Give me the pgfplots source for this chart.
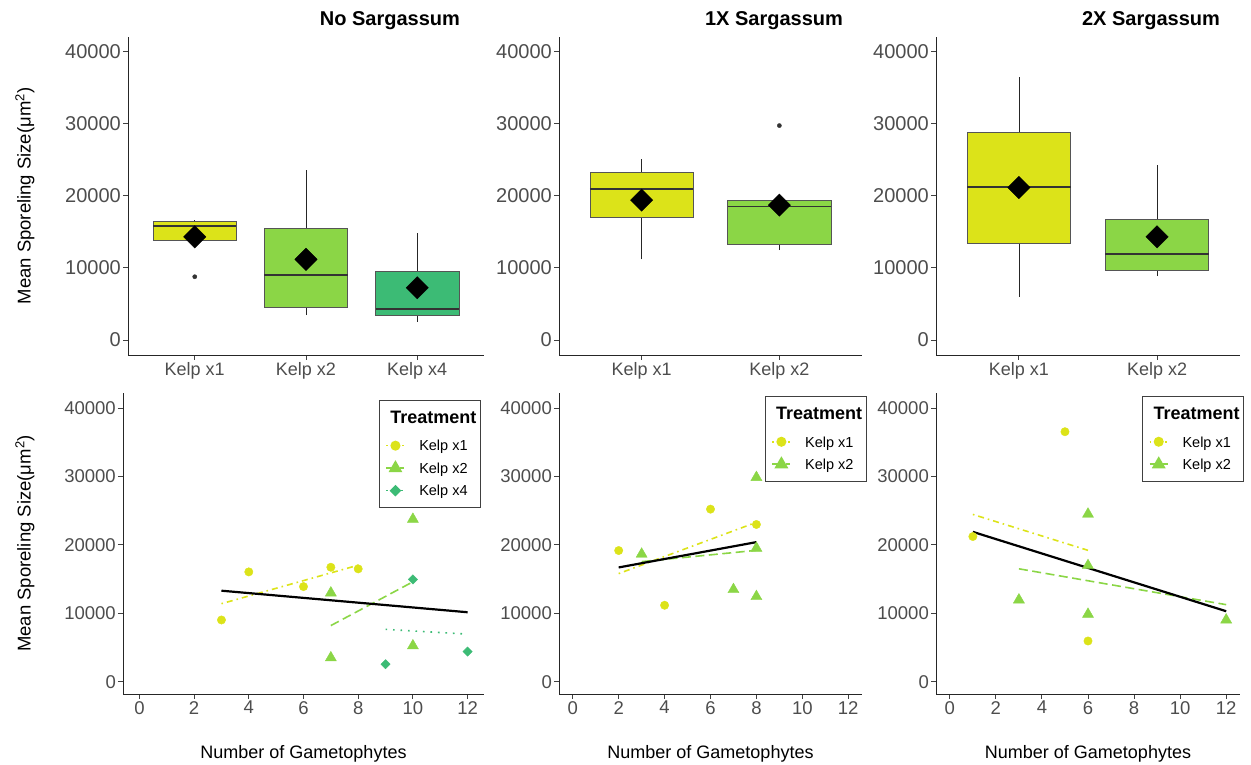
\documentclass[border=0pt]{standalone}
\usepackage{fontspec}
\setmainfont{Liberation Sans}
\usepackage{pgfplots}
\pgfplotsset{compat=1.18}
\definecolor{ka}{HTML}{DCE319}
\definecolor{kb}{HTML}{8BD646}
\definecolor{kc}{HTML}{3CBB75}
\definecolor{tickgray}{HTML}{4D4D4D}
\definecolor{boxgray}{HTML}{555555}
\pgfplotsset{
  ggbase/.style={
    scale only axis, anchor=south west,
    axis x line*=bottom, axis y line*=left,
    axis line style={-, draw=black!85, line width=0.9pt},
    tick align=outside, major tick length=5pt,
    major tick style={draw=black!75, line width=0.9pt},
    tick label style={text=tickgray},
    /pgf/number format/1000 sep={},
    /pgf/number format/assume math mode=true,
    scaled y ticks=false, scaled x ticks=false,
    ytick={0,10000,20000,30000,40000},
    minor tick num=0,
  },
  topax/.style={ggbase, height=318pt, ymin=-2070, ymax=41980,
    yticklabel style={font=\fontsize{20}{22}\selectfont, inner sep=2pt},
    xticklabel style={font=\fontsize{18}{20}\selectfont, inner sep=2pt},
  },
  botax/.style={ggbase, height=301pt, ymin=-1800, ymax=42200, xmin=-0.6, xmax=12.6,
    xtick={0,2,4,6,8,10,12},
    tick label style={font=\fontsize{18.5}{20}\selectfont, inner sep=2pt},
    legend cell align=left,
    legend image code/.code={\draw[mark repeat=2,mark phase=2,#1] plot coordinates {(0pt,2.5pt) (9pt,2.5pt) (18pt,2.5pt)};},
  },
  legsty/.style={legend style={draw=black!75, line width=1pt, fill=white, inner xsep=6pt, inner ysep=3pt,
    font=\fontsize{14.5}{16}\selectfont, row sep=0pt, column sep=12pt,
    nodes={inner sep=2pt, text height=12pt, text depth=6.5pt}}},
  meanmk/.style={only marks, mark=square*, mark options={rotate=45, fill=black, draw=black}, mark size=7.9pt},
  outmk/.style={only marks, mark=*, mark size=2.1pt, color=black!80},
  whisk/.style={black!85, line width=0.7pt},
  medl/.style={black!80, line width=1.8pt},
  lka/.style={ka, line width=1.6pt, dash pattern=on 1.6pt off 4pt on 6pt off 4pt},
  lkb/.style={kb, line width=1.6pt, dash pattern=on 9pt off 4.5pt},
  lkc/.style={kc, line width=1.6pt, dash pattern=on 1.6pt off 5.9pt},
  pka/.style={only marks, mark=*, mark size=4.2pt, color=ka},
  pkb/.style={only marks, mark=triangle*, mark size=6.4pt, color=kb},
  pkc/.style={only marks, mark=square*, mark options={rotate=45}, mark size=3.3pt, color=kc},
  lall/.style={black, line width=2.2pt},
}
% box: left, centre, right, lower whisker, lower quartile, median, upper quartile, upper whisker, fill
\newcommand{\gbox}[9]{%
  \addplot[whisk] coordinates {(#2,#4) (#2,#5)};
  \addplot[whisk] coordinates {(#2,#7) (#2,#8)};
  \addplot[fill=#9, draw=boxgray, line width=0.9pt] coordinates {(#1,#5) (#3,#5) (#3,#7) (#1,#7)} -- cycle;
  \addplot[medl] coordinates {(#1,#6) (#3,#6)};
}
\newcommand{\ttlentry}{\addlegendimage{empty legend}\addlegendentry[text height=18pt, text depth=11.5pt]{\hspace*{-29pt}\makebox[82pt][l]{\fontsize{18}{20}\selectfont\bfseries Treatment}}}
\begin{document}
\begin{tikzpicture}
\path[use as bounding box] (0,0) rectangle (1251pt,765pt);

% ---------- top row ----------
\begin{axis}[topax, at={(128pt,410pt)}, width=356pt, xmin=0.4, xmax=3.6,
  xtick={1,2,3}, xticklabels={Kelp x1,Kelp x2,Kelp x4}]
\gbox{0.625}{1}{1.375}{13840}{13840}{15830}{16380}{16610}{ka}
\gbox{1.625}{2}{2.375}{3460}{4570}{9000}{15410}{23620}{kb}
\gbox{2.625}{3}{3.375}{2540}{3370}{4340}{9550}{14760}{kc}
\addplot[outmk] coordinates {(1,8770)};
\addplot[meanmk] coordinates {(1,14300) (2,11170) (3,7240)};
\end{axis}

\begin{axis}[topax, at={(559pt,410pt)}, width=303pt, xmin=0.4, xmax=2.6,
  xtick={1,2}, xticklabels={Kelp x1,Kelp x2}]
\gbox{0.625}{1}{1.375}{11170}{16980}{20900}{23210}{25010}{ka}
\gbox{1.625}{2}{2.375}{12460}{13290}{18500}{19290}{19290}{kb}
\addplot[outmk] coordinates {(2,29710)};
\addplot[meanmk] coordinates {(1,19380) (2,18690)};
\end{axis}

\begin{axis}[topax, at={(936pt,410pt)}, width=304pt, xmin=0.4, xmax=2.6,
  xtick={1,2}, xticklabels={Kelp x1,Kelp x2}]
\gbox{0.625}{1}{1.375}{6000}{13430}{21180}{28700}{36450}{ka}
\gbox{1.625}{2}{2.375}{8860}{9690}{11900}{16750}{24220}{kb}
\addplot[meanmk] coordinates {(1,21130) (2,14300)};
\end{axis}

% ---------- bottom row ----------
\begin{axis}[botax, legsty, at={(123pt,71pt)}, width=361pt,
  legend style={at={(0.991,0.977)}, anchor=north east}]
\ttlentry
\addlegendimage{lka, mark=*, mark size=4.2pt, mark options={solid}}\addlegendentry{Kelp x1}
\addlegendimage{lkb, mark=triangle*, mark size=6.4pt, mark options={solid}}\addlegendentry{Kelp x2}
\addlegendimage{lkc, mark=square*, mark size=3.3pt, mark options={solid, rotate=45}}\addlegendentry{Kelp x4}
\addplot[pka, forget plot] coordinates {(3,9020) (4,16050) (6,13900) (7,16730) (8,16490)};
\addplot[pkb, forget plot] coordinates {(7,12980) (7,3500) (10,23750) (10,5250)};
\addplot[pkc, forget plot] coordinates {(9,2550) (10,14950) (12,4400)};
\addplot[lka, forget plot] coordinates {(3,11400) (8,17030)};
\addplot[lkb, forget plot] coordinates {(7,8200) (10,14600)};
\addplot[lkc, forget plot] coordinates {(9,7650) (12,6950)};
\addplot[lall, forget plot] coordinates {(3,13300) (12,10150)};
\end{axis}

\begin{axis}[botax, legsty, at={(559pt,71pt)}, width=303pt,
  legend style={at={(1.0155,0.990)}, anchor=north east}]
\ttlentry
\addlegendimage{lka, mark=*, mark size=4.2pt, mark options={solid}}\addlegendentry{Kelp x1}
\addlegendimage{lkb, mark=triangle*, mark size=6.4pt, mark options={solid}}\addlegendentry{Kelp x2}
\addplot[pka, forget plot] coordinates {(2,19170) (4,11170) (6,25220) (8,22980)};
\addplot[pkb, forget plot] coordinates {(3,18650) (7,13470) (8,29860) (8,19520) (8,12450)};
\addplot[lka, forget plot] coordinates {(2,15800) (8,23300)};
\addplot[lkb, forget plot] coordinates {(3,17550) (8,19200)};
\addplot[lall, forget plot] coordinates {(2,16700) (8,20400)};
\end{axis}

\begin{axis}[botax, legsty, at={(936pt,71pt)}, width=304pt,
  legend style={at={(1.0132,0.990)}, anchor=north east}]
\ttlentry
\addlegendimage{lka, mark=*, mark size=4.2pt, mark options={solid}}\addlegendentry{Kelp x1}
\addlegendimage{lkb, mark=triangle*, mark size=6.4pt, mark options={solid}}\addlegendentry{Kelp x2}
\addplot[pka, forget plot] coordinates {(1,21220) (5,36540) (6,5950)};
\addplot[pkb, forget plot] coordinates {(3,11960) (6,24500) (6,16980) (6,9860) (12,9030)};
\addplot[lka, forget plot] coordinates {(1,24450) (6,19200)};
\addplot[lkb, forget plot] coordinates {(3,16500) (12,11260)};
\addplot[lall, forget plot] coordinates {(1,21900) (12,10300)};
\end{axis}

% ---------- titles and axis labels ----------
\node[anchor=base east, font=\fontsize{20}{22}\selectfont\bfseries] at (463.5pt,739pt) {No Sargassum};
\node[anchor=base east, font=\fontsize{20}{22}\selectfont\bfseries] at (846.5pt,739pt) {1X Sargassum};
\node[anchor=base east, font=\fontsize{20}{22}\selectfont\bfseries] at (1223.5pt,739pt) {2X Sargassum};
\node[rotate=90, anchor=base, font=\fontsize{18.5}{20}\selectfont] at (30.7pt,569pt) {Mean Sporeling Size(μm\textsuperscript{2})};
\node[rotate=90, anchor=base, font=\fontsize{18.5}{20}\selectfont] at (30.7pt,221.5pt) {Mean Sporeling Size(μm\textsuperscript{2})};
\node[anchor=base, font=\fontsize{18}{20}\selectfont] at (303.5pt,6pt) {Number of Gametophytes};
\node[anchor=base, font=\fontsize{18}{20}\selectfont] at (710.5pt,6pt) {Number of Gametophytes};
\node[anchor=base, font=\fontsize{18}{20}\selectfont] at (1088pt,6pt) {Number of Gametophytes};
\end{tikzpicture}
\end{document}
